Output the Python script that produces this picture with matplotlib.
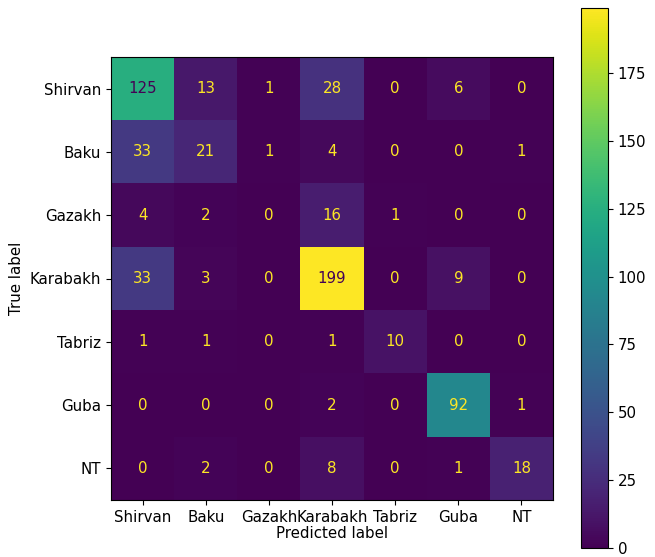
import numpy as np
import matplotlib
matplotlib.use("Agg")
import matplotlib.pyplot as plt

plt.rcParams['font.size'] = 10.8

labels = ["Shirvan", "Baku", "Gazakh", "Karabakh", "Tabriz", "Guba", "NT"]
cm = np.array([
    [125, 13, 1, 28, 0, 6, 0],
    [33, 21, 1, 4, 0, 0, 1],
    [4, 2, 0, 16, 1, 0, 0],
    [33, 3, 0, 199, 0, 9, 0],
    [1, 1, 0, 1, 10, 0, 0],
    [0, 0, 0, 2, 0, 92, 1],
    [0, 2, 0, 8, 0, 1, 18],
])

fig = plt.figure(figsize=(6.55, 5.57), dpi=100)
ax = fig.add_axes([111 / 655, 1 - 500 / 557, 442 / 655, 443 / 557])
cax = fig.add_axes([581 / 655, 1 - 548 / 557, 27 / 655, 540 / 557])

cmap = plt.get_cmap("viridis")
im = ax.imshow(cm, cmap=cmap, interpolation="nearest", aspect="auto")

thresh = (cm.max() + cm.min()) / 2.0
for i in range(cm.shape[0]):
    for j in range(cm.shape[1]):
        color = cmap(0) if cm[i, j] > thresh else cmap(1.0)
        ax.text(j, i, str(cm[i, j]), ha="center", va="center", color=color)

ax.set_xticks(range(len(labels)))
ax.set_yticks(range(len(labels)))
ax.set_xticklabels(labels)
ax.set_yticklabels(labels)
ax.set_xlabel("Predicted label", labelpad=1)
ax.set_ylabel("True label")

cb = fig.colorbar(im, cax=cax)
cb.set_ticks([0, 25, 50, 75, 100, 125, 150, 175])

fig.savefig("out.png", dpi=100)
